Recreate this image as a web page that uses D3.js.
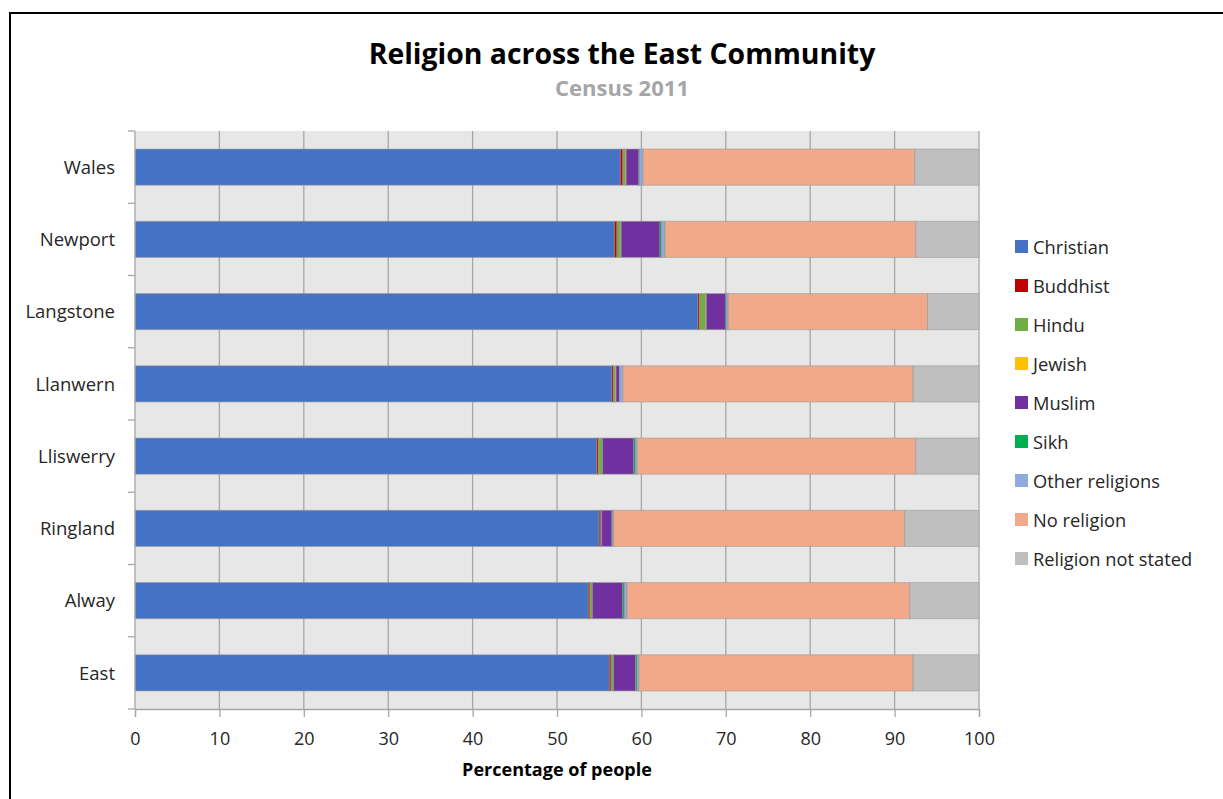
<!DOCTYPE html>
<html><head><meta charset="utf-8">
<script src="https://cdn.jsdelivr.net/npm/d3@7"></script>
<style>body{margin:0;background:#fff}svg{display:block}text{font-family:"Open Sans",Lato,sans-serif}</style>
</head><body><svg id="c" width="1223" height="799"></svg>
<script>
const areas = ["Wales","Newport","Langstone","Llanwern","Lliswerry","Ringland","Alway","East"];
const seriesNames = ["Christian","Buddhist","Hindu","Jewish","Muslim","Sikh","Other religions","No religion","Religion not stated"];
const christian = [57.5, 56.8, 66.7, 56.5, 54.7, 55.0, 53.7, 56.2];
const buddhist  = [0.3, 0.3, 0.2, 0.2, 0.2, 0.2, 0.2, 0.2];
const hindu     = [0.3, 0.4, 0.7, 0.2, 0.5, 0.1, 0.3, 0.3];
const jewish    = [0.1, 0.1, 0.1, 0.1, 0.0, 0.0, 0.0, 0.0];
const muslim    = [1.5, 4.6, 2.3, 0.4, 3.7, 1.2, 3.6, 2.6];
const sikh      = [0.1, 0.2, 0.1, 0.0, 0.2, 0.1, 0.2, 0.2];
const other     = [0.4, 0.4, 0.2, 0.4, 0.2, 0.1, 0.3, 0.2];
const noReligion= [32.2, 29.7, 23.6, 34.4, 33.0, 34.5, 33.5, 32.5];
const notStated = [7.6, 7.5, 6.1, 7.8, 7.5, 8.8, 8.2, 7.8];
const xTicks = [0,10,20,30,40,50,60,70,80,90,100];
const colors = ["#4472c4","#c00000","#70ad47","#ffc000","#7030a0","#00b050","#8faadc","#f1a98a","#bfbfbf"];

const allSeries = [christian,buddhist,hindu,jewish,muslim,sikh,other,noReligion,notStated];
const rows = areas.map((a,i)=>{const r={area:a}; seriesNames.forEach((s,j)=>r[s]=allSeries[j][i]); return r;});
const stacked = d3.stack().keys(seriesNames)(rows);

const svg = d3.select("#c");
const m = {l:135, r:979, t:131, b:709};
const x = d3.scaleLinear().domain([0,100]).range([m.l, m.r]);
const y = d3.scaleBand().domain(areas).range([m.t, m.b]).paddingInner(0.5).paddingOuter(0.25);
const color = d3.scaleOrdinal().domain(seriesNames).range(colors);

function fitWidth(sel, target){
  const w = sel.node().getComputedTextLength();
  const fs = parseFloat(sel.attr("font-size"));
  sel.attr("font-size", fs*target/w);
}

// frame
svg.append("rect").attr("x",10).attr("y",13).attr("width",1240).attr("height",820)
  .attr("fill","none").attr("stroke","#000").attr("stroke-width",2);

// plot background
svg.append("rect").attr("x",m.l).attr("y",m.t).attr("width",m.r-m.l).attr("height",m.b-m.t).attr("fill","#e7e7e7");

// grid
svg.append("g").selectAll("line").data(xTicks.filter(d=>d>0)).join("line")
  .attr("x1",d=>x(d)).attr("x2",d=>x(d)).attr("y1",m.t).attr("y2",m.b)
  .attr("stroke","#a6a6a6").attr("stroke-width",1.3);

// bars
svg.append("g").selectAll("g").data(stacked).join("g").attr("fill",d=>color(d.key))
  .selectAll("rect").data(d=>d).join("rect")
  .attr("x",d=>x(d[0])).attr("width",d=>Math.max(0,x(d[1])-x(d[0])))
  .attr("y",d=>y(d.data.area)).attr("height",y.bandwidth())
  .attr("stroke","rgba(150,150,150,0.55)").attr("stroke-width",1);

// bottom axis
const xAxis = svg.append("g").attr("transform",`translate(0,${m.b})`)
  .call(d3.axisBottom(x).tickValues(xTicks).tickSize(8).tickPadding(15));
xAxis.select(".domain").attr("stroke","#a6a6a6").attr("stroke-width",1.3);
xAxis.selectAll(".tick line").attr("stroke","#a6a6a6").attr("stroke-width",1.3);
xAxis.selectAll(".tick text").attr("font-size",18).attr("fill","#262626").attr("font-family","Open Sans");

// left axis
const bandStep = (m.b-m.t)/areas.length;
const leftG = svg.append("g");
leftG.append("line").attr("x1",m.l).attr("x2",m.l).attr("y1",m.t).attr("y2",m.b).attr("stroke","#a6a6a6").attr("stroke-width",1.3);
leftG.selectAll("line.t").data(d3.range(areas.length+1)).join("line").attr("class","t")
  .attr("x1",m.l-7).attr("x2",m.l).attr("y1",i=>m.t+i*bandStep).attr("y2",i=>m.t+i*bandStep)
  .attr("stroke","#a6a6a6").attr("stroke-width",1.3);
leftG.selectAll("text").data(areas).join("text")
  .attr("x",115).attr("y",d=>y(d)+y.bandwidth()/2).attr("dy","0.36em")
  .attr("text-anchor","end").attr("font-size",18.5).attr("fill","#262626").text(d=>d);

// titles
const t1 = svg.append("text").attr("x",622).attr("y",64).attr("text-anchor","middle")
  .attr("font-size",26).attr("font-weight","bold").attr("fill","#000").text("Religion across the East Community");
fitWidth(t1, 507);
const t2 = svg.append("text").attr("x",622).attr("y",96).attr("text-anchor","middle")
  .attr("font-size",19).attr("font-weight","bold").attr("fill","#a6a6a6").text("Census 2011");
fitWidth(t2, 134);
const t3 = svg.append("text").attr("x",557).attr("y",776).attr("text-anchor","middle")
  .attr("font-size",16).attr("font-weight","bold").attr("fill","#000").text("Percentage of people");
fitWidth(t3, 190);

// legend
const lg = svg.append("g").selectAll("g").data(seriesNames).join("g")
  .attr("transform",(d,i)=>`translate(1015,${247+i*39})`);
lg.append("rect").attr("x",0).attr("y",-7).attr("width",13).attr("height",13).attr("fill",d=>color(d));
lg.append("text").attr("x",18).attr("y",0).attr("dy","0.36em").attr("font-size",18.3).attr("fill","#262626").text(d=>d);
</script></body></html>
